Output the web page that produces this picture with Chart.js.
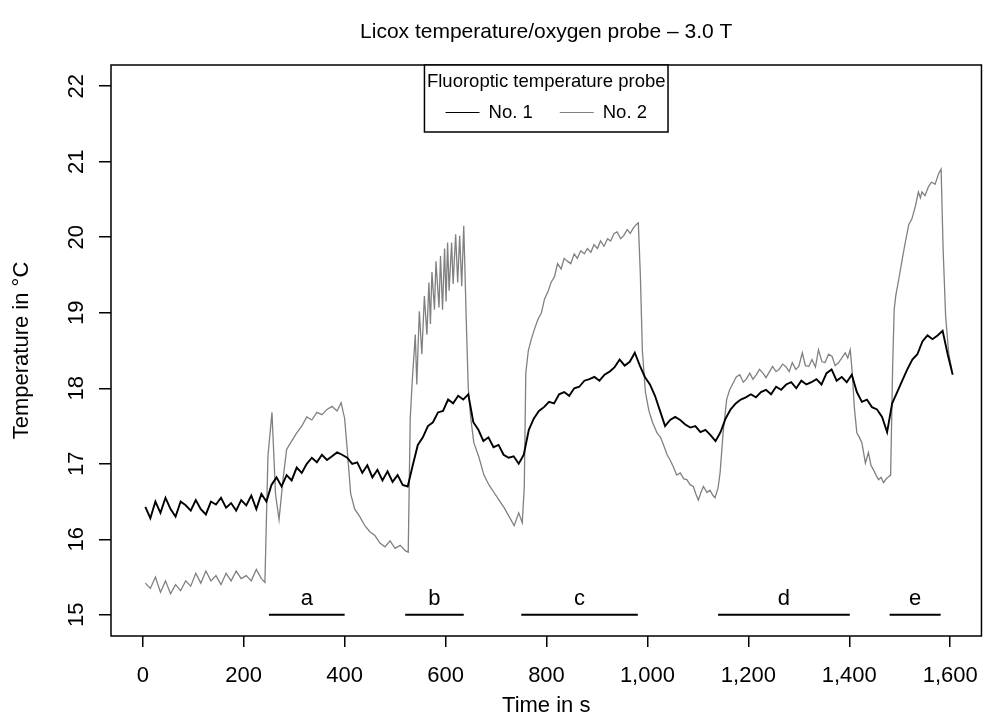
<!DOCTYPE html>
<html>
<head>
<meta charset="utf-8">
<title>Licox temperature/oxygen probe – 3.0 T</title>
<script src="https://cdn.jsdelivr.net/npm/chart.js@4/dist/chart.umd.min.js"></script>
<style>
  html, body { margin: 0; padding: 0; background: #fff; }
  #marco { width: 994px; height: 723px; }
</style>
</head>
<body>
<div id="marco"><canvas id="grafico-sondas"></canvas></div>
<script>
'use strict';

const FUENTE = "'Liberation Sans', Arial, Helvetica, sans-serif";
const titulo = 'Licox temperature/oxygen probe \u2013 3.0 T';
const tituloLeyenda = 'Fluoroptic temperature probe';

// Sonda No. 1 (negra), tiempo en s
const tiemposNo1 = [
    5, 15, 25, 35, 45, 55, 65, 75, 85, 95,
    105, 115, 125, 135, 145, 155, 165, 175, 185, 195,
    205, 215, 225, 235, 245, 255, 265, 275, 285, 295,
    305, 315, 325, 335, 345, 355, 365, 375, 385, 395,
    405, 415, 425, 435, 445, 455, 465, 475, 485, 495,
    505, 515, 525, 535, 545, 555, 565, 575, 585, 595,
    605, 615, 625, 635, 645, 655, 665, 675, 685, 695,
    705, 715, 725, 735, 745, 755, 765, 775, 785, 795,
    805, 815, 825, 835, 845, 855, 865, 875, 885, 895,
    905, 915, 925, 935, 945, 955, 965, 975, 985, 995,
    1005, 1015, 1025, 1035, 1045, 1055, 1065, 1075, 1085, 1095,
    1105, 1115, 1125, 1135, 1145, 1155, 1165, 1175, 1185, 1195,
    1205, 1215, 1225, 1235, 1245, 1255, 1265, 1275, 1285, 1295,
    1305, 1315, 1325, 1335, 1345, 1355, 1365, 1375, 1385, 1395,
    1405, 1415, 1425, 1435, 1445, 1455, 1465, 1475, 1485, 1495,
    1505, 1515, 1525, 1535, 1545, 1555, 1565, 1575, 1585, 1595,
    1605
];
const tempNo1 = [
    16.43, 16.28, 16.50, 16.35, 16.55, 16.40, 16.30, 16.50, 16.45, 16.38,
    16.52, 16.40, 16.33, 16.50, 16.46, 16.55, 16.42, 16.48, 16.38, 16.52,
    16.45, 16.58, 16.40, 16.60, 16.50, 16.72, 16.82, 16.70, 16.85, 16.78,
    16.95, 16.88, 17.00, 17.08, 17.02, 17.12, 17.05, 17.10, 17.15, 17.12,
    17.08, 17.00, 17.02, 16.88, 16.98, 16.82, 16.92, 16.78, 16.90, 16.76,
    16.85, 16.72, 16.70, 16.98, 17.25, 17.35, 17.50, 17.55, 17.68, 17.70,
    17.85, 17.80, 17.90, 17.85, 17.92, 17.55, 17.45, 17.30, 17.35, 17.22,
    17.25, 17.12, 17.08, 17.10, 17.00, 17.12, 17.45, 17.60, 17.70, 17.75,
    17.82, 17.80, 17.92, 17.95, 17.90, 18.00, 18.02, 18.10, 18.12, 18.15,
    18.10, 18.18, 18.22, 18.28, 18.38, 18.30, 18.35, 18.47, 18.30, 18.15,
    18.05, 17.90, 17.70, 17.50, 17.58, 17.62, 17.58, 17.52, 17.48, 17.50,
    17.42, 17.45, 17.38, 17.30, 17.42, 17.60, 17.72, 17.80, 17.85, 17.88,
    17.92, 17.88, 17.95, 17.98, 17.92, 18.02, 17.98, 18.05, 18.08, 18.00,
    18.10, 18.05, 18.08, 18.12, 18.05, 18.20, 18.25, 18.10, 18.15, 18.08,
    18.18, 17.95, 17.82, 17.85, 17.75, 17.72, 17.62, 17.42, 17.80, 17.95,
    18.10, 18.25, 18.38, 18.45, 18.62, 18.70, 18.65, 18.70, 18.76, 18.45,
    18.18
];

// Sonda No. 2 (gris)
const tiemposNo2 = [
    5, 15, 25, 35, 45, 55, 65, 75, 85, 95,
    105, 115, 125, 135, 145, 155, 165, 175, 185, 195,
    205, 215, 225, 235, 242, 248, 256, 263, 270, 278,
    285, 295, 305, 315, 325, 335, 345, 355, 365, 375,
    385, 393, 400, 405, 412, 420, 430, 440, 450, 460,
    470, 480, 490, 500, 510, 520, 526, 530, 534, 540,
    543, 548, 553, 558, 563, 567, 570, 573, 578, 581,
    587, 590, 594, 598, 601, 604, 607, 612, 615, 620,
    624, 628, 632, 636, 638, 641, 645, 650, 656, 666,
    676, 686, 696, 706, 716, 726, 736, 745, 752, 756,
    759, 764, 770, 776, 783, 790, 796, 803, 809, 816,
    822, 829, 835, 842, 848, 855, 861, 868, 875, 881,
    888, 894, 901, 907, 914, 921, 927, 934, 940, 947,
    953, 960, 966, 972, 978, 982, 986, 990, 996, 1003,
    1010, 1019, 1026, 1032, 1039, 1045, 1052, 1058, 1065, 1072,
    1078, 1085, 1091, 1096, 1101, 1106, 1111, 1118, 1124, 1130,
    1134, 1140, 1144, 1150, 1157, 1163, 1170, 1176, 1183, 1190,
    1196, 1203, 1209, 1216, 1222, 1229, 1235, 1242, 1248, 1255,
    1261, 1268, 1274, 1281, 1287, 1294, 1300, 1307, 1313, 1320,
    1326, 1333, 1339, 1346, 1352, 1359, 1366, 1372, 1379, 1385,
    1392, 1397, 1402, 1406, 1410, 1415, 1420, 1425, 1432, 1438,
    1443, 1448, 1453, 1458, 1463, 1468, 1473, 1478, 1482, 1486,
    1489, 1492, 1498, 1505, 1511, 1518, 1524, 1531, 1537, 1541,
    1544, 1550, 1557, 1563, 1570, 1577, 1582, 1586, 1591, 1597,
    1603
];
const tempNo2 = [
    15.42, 15.35, 15.50, 15.30, 15.45, 15.28, 15.40, 15.32, 15.45, 15.38,
    15.55, 15.42, 15.58, 15.45, 15.52, 15.40, 15.55, 15.45, 15.58, 15.48,
    15.52, 15.45, 15.60, 15.48, 15.43, 17.10, 17.68, 16.60, 16.26, 16.80,
    17.19, 17.30, 17.41, 17.50, 17.62, 17.58, 17.68, 17.65, 17.72, 17.76,
    17.70, 17.81, 17.60, 17.20, 16.60, 16.40, 16.30, 16.18, 16.10, 16.05,
    15.95, 15.90, 15.98, 15.88, 15.92, 15.85, 15.83, 17.60, 18.10, 18.71,
    18.05, 19.02, 18.45, 19.22, 18.71, 19.40, 18.85, 19.54, 19.04, 19.68,
    19.07, 19.75, 19.04, 19.85, 19.15, 19.93, 19.29, 19.93, 19.38, 20.04,
    19.40, 20.02, 19.35, 20.15, 19.67, 18.90, 18.00, 17.60, 17.28, 17.09,
    16.85, 16.72, 16.62, 16.52, 16.42, 16.30, 16.18, 16.35, 16.22, 16.70,
    18.20, 18.50, 18.65, 18.78, 18.91, 19.00, 19.18, 19.28, 19.40, 19.48,
    19.65, 19.58, 19.72, 19.68, 19.65, 19.78, 19.72, 19.82, 19.78, 19.85,
    19.80, 19.90, 19.85, 19.95, 19.88, 19.98, 19.95, 20.05, 20.07, 19.98,
    20.02, 20.10, 20.05, 20.12, 20.17, 20.19, 19.50, 18.50, 17.95, 17.70,
    17.55, 17.41, 17.35, 17.25, 17.12, 17.05, 16.95, 16.85, 16.88, 16.80,
    16.79, 16.72, 16.70, 16.60, 16.52, 16.62, 16.70, 16.62, 16.65, 16.58,
    16.55, 16.68, 16.88, 17.41, 17.85, 17.98, 18.07, 18.15, 18.18, 18.08,
    18.12, 18.20, 18.12, 18.18, 18.25, 18.20, 18.14, 18.22, 18.29, 18.22,
    18.25, 18.32, 18.29, 18.22, 18.34, 18.25, 18.29, 18.47, 18.30, 18.29,
    18.38, 18.28, 18.51, 18.35, 18.34, 18.45, 18.42, 18.30, 18.34, 18.40,
    18.47, 18.40, 18.51, 18.20, 17.75, 17.41, 17.35, 17.28, 17.01, 17.15,
    16.98, 16.92, 16.85, 16.79, 16.82, 16.75, 16.80, 16.83, 16.85, 18.30,
    19.04, 19.22, 19.44, 19.71, 19.93, 20.17, 20.24, 20.41, 20.60, 20.52,
    20.60, 20.55, 20.67, 20.73, 20.70, 20.84, 20.90, 19.84, 18.95, 18.47,
    18.25
];

// Intervalos marcados a-e sobre 15 °C
const fases = ['a', 'b', 'c', 'd', 'e'];
const faseInicio = [250, 520, 750, 1140, 1480];
const faseFin = [400, 636, 981, 1401, 1581];
const nivelFases = 15;

// Ejes
const tiempoMin = -63;
const tiempoMax = 1662;
const tempMin = 14.72;
const tempMax = 22.28;

function puntos(tiempos, valores) {
    return tiempos.map((t, i) => ({ x: t, y: valores[i] }));
}

function puntosFases() {
    const datos = [];
    fases.forEach((f, i) => {
        datos.push({ x: faseInicio[i], y: nivelFases });
        datos.push({ x: faseFin[i], y: nivelFases });
        datos.push({ x: faseFin[i], y: null });
    });
    return datos;
}

const pluginMarco = {
    id: 'marco',
    afterDraw(chart) {
        const { ctx, chartArea: a, scales } = chart;
        const cx = (a.left + a.right) / 2;
        ctx.save();
        ctx.fillStyle = '#000';
        ctx.strokeStyle = '#000';

        // caja del gráfico
        ctx.lineWidth = 1.5;
        ctx.strokeRect(a.left, a.top, a.right - a.left, a.bottom - a.top);

        // título
        ctx.font = `21px ${FUENTE}`;
        ctx.textAlign = 'center';
        ctx.textBaseline = 'middle';
        ctx.fillText(titulo, cx, 32);

        // etiquetas del eje y, giradas
        ctx.font = `22px ${FUENTE}`;
        ctx.textBaseline = 'alphabetic';
        scales.y.ticks.forEach(t => {
            const py = scales.y.getPixelForValue(t.value);
            ctx.save();
            ctx.translate(a.left - 28.5, py);
            ctx.rotate(-Math.PI / 2);
            ctx.fillText(t.label, 0, 0);
            ctx.restore();
        });

        // letras de las fases
        fases.forEach((f, i) => {
            const px = scales.x.getPixelForValue((faseInicio[i] + faseFin[i]) / 2);
            const py = scales.y.getPixelForValue(nivelFases) - 10;
            ctx.fillText(f, px, py);
        });

        // leyenda
        ctx.font = `18.5px ${FUENTE}`;
        const anchoTitulo = ctx.measureText(tituloLeyenda).width;
        const ancho = anchoTitulo + 5;
        const alto = 67;
        const x0 = cx - ancho / 2;
        ctx.fillStyle = '#fff';
        ctx.fillRect(x0, a.top, ancho, alto);
        ctx.strokeRect(x0, a.top, ancho, alto);
        ctx.fillStyle = '#000';
        ctx.textBaseline = 'middle';
        ctx.fillText(tituloLeyenda, cx, a.top + 17);

        const series = chart.data.datasets.filter(d => d.enLeyenda);
        const largoLinea = 34;
        const hueco = 9;
        const separacion = 27;
        const anchos = series.map(d => largoLinea + hueco + ctx.measureText(d.label).width);
        const total = anchos.reduce((s, w) => s + w, 0) + separacion * (series.length - 1);
        let x = cx - total / 2;
        const yItem = Math.round(a.top + 47) + 0.5;
        ctx.textAlign = 'left';
        series.forEach((d, i) => {
            ctx.strokeStyle = d.borderColor;
            ctx.lineWidth = 1;
            ctx.beginPath();
            ctx.moveTo(x, yItem);
            ctx.lineTo(x + largoLinea, yItem);
            ctx.stroke();
            ctx.fillText(d.label, x + largoLinea + hueco, yItem);
            x += anchos[i] + separacion;
        });
        ctx.restore();
    }
};

const ctx = document.getElementById('grafico-sondas').getContext('2d');

new Chart(ctx, {
    type: 'line',
    data: {
        datasets: [
            {
                label: 'No. 1',
                data: puntos(tiemposNo1, tempNo1),
                borderColor: '#000000',
                borderWidth: 1.9,
                enLeyenda: true
            },
            {
                label: 'No. 2',
                data: puntos(tiemposNo2, tempNo2),
                borderColor: '#808080',
                borderWidth: 1.3,
                enLeyenda: true
            },
            {
                label: 'fases',
                data: puntosFases(),
                borderColor: '#000000',
                borderWidth: 2,
                spanGaps: false,
                enLeyenda: false
            }
        ]
    },
    options: {
        responsive: true,
        maintainAspectRatio: false,
        animation: false,
        devicePixelRatio: 1,
        layout: { padding: { top: 65, right: 8, bottom: 0, left: 0 } },
        elements: {
            point: { radius: 0, hoverRadius: 0 },
            line: { tension: 0, fill: false }
        },
        plugins: {
            legend: { display: false },
            title: { display: false },
            tooltip: { enabled: false }
        },
        scales: {
            x: {
                type: 'linear',
                min: tiempoMin,
                max: tiempoMax,
                afterFit: s => { s.height = 87; },
                border: { display: false },
                grid: {
                    drawOnChartArea: false,
                    drawTicks: true,
                    tickLength: 11,
                    color: '#000',
                    lineWidth: 1.5
                },
                ticks: {
                    stepSize: 200,
                    includeBounds: false,
                    maxRotation: 0,
                    autoSkip: false,
                    padding: 16,
                    color: '#000',
                    font: { family: FUENTE, size: 22 },
                    callback: v => v.toLocaleString('en-US')
                },
                title: {
                    display: true,
                    text: 'Time in s',
                    color: '#000',
                    font: { family: FUENTE, size: 22 },
                    padding: { top: 0, bottom: 4 }
                }
            },
            y: {
                type: 'linear',
                min: tempMin,
                max: tempMax,
                afterFit: s => { s.width = 111; },
                border: { display: false },
                grid: {
                    drawOnChartArea: false,
                    drawTicks: true,
                    tickLength: 12,
                    color: '#000',
                    lineWidth: 1.5
                },
                ticks: {
                    stepSize: 1,
                    includeBounds: false,
                    autoSkip: false,
                    color: 'rgba(0,0,0,0)',
                    font: { family: FUENTE, size: 22 }
                },
                title: {
                    display: true,
                    text: 'Temperature in \u00B0C',
                    color: '#000',
                    font: { family: FUENTE, size: 22 },
                    padding: { top: 9, bottom: 0 }
                }
            }
        }
    },
    plugins: [pluginMarco]
});
</script>
</body>
</html>
